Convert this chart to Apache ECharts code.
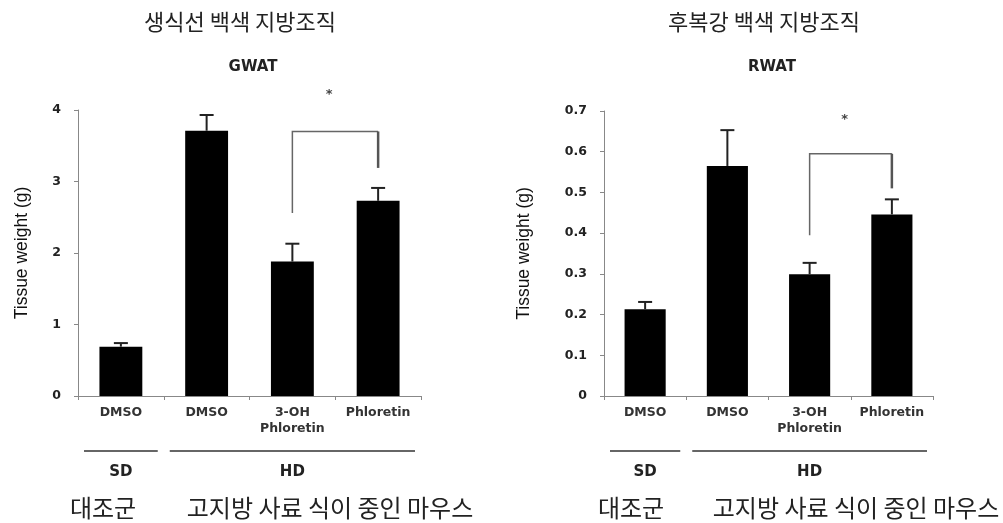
<!DOCTYPE html>
<html>
<head>
<meta charset="utf-8">
<script src="https://cdn.jsdelivr.net/npm/echarts@6/dist/echarts.min.js"></script>
<style>
  html, body { margin: 0; padding: 0; background: #fff; }
  #chart { width: 1003px; height: 523px; }
</style>
</head>
<body>
<div id="chart"></div>
<script>
// Treatment groups along the x axis
const categories = ['DMSO', 'DMSO', '3-OH\nPhloretin', 'Phloretin'];

// Gonadal white adipose tissue (g): mean and standard error
const gwatMean = [0.69, 3.71, 1.88, 2.73];
const gwatSE   = [0.05, 0.22, 0.25, 0.18];

// Retroperitoneal white adipose tissue (g): mean and standard error
const rwatMean = [0.213, 0.565, 0.299, 0.446];
const rwatSE   = [0.018, 0.088, 0.028, 0.037];

// Significance bracket: [from category, to category, top, left leg end, right leg end, star height]
const gwatBracket = [2, 3, 3.70, 2.56, 3.19, 4.22];
const rwatBracket = [2, 3, 0.595, 0.395, 0.51, 0.68];

// Diet groups under the axis: category span and label
const groupSpans = [[0, 0], [1, 3]];
const groupNames = ['SD', 'HD'];

const gwatTicks = { min: 0, max: 4, interval: 1 };
const rwatTicks = { min: 0, max: 0.7, interval: 0.1 };

const latinFont = 'DejaVu Sans';
const korFont = '"Noto Sans CJK KR", "Noto Sans CJK SC", sans-serif';

function errorBarItem(params, api) {
  const i = api.value(0);
  const m = api.value(1);
  const e = api.value(2);
  const p0 = api.coord([i, m]);
  const p1 = api.coord([i, m + e]);
  const cap = 7;
  return {
    type: 'group',
    children: [
      { type: 'line', shape: { x1: p0[0], y1: p0[1], x2: p1[0], y2: p1[1] },
        style: { stroke: '#222', lineWidth: 2 } },
      { type: 'line', shape: { x1: p1[0] - cap, y1: p1[1], x2: p1[0] + cap, y2: p1[1] },
        style: { stroke: '#222', lineWidth: 2 } }
    ]
  };
}

function bracketItem(params, api) {
  const a = api.value(0), b = api.value(1);
  const top = api.value(2), le = api.value(3), re = api.value(4), star = api.value(5);
  const pTopL = api.coord([a, top]);
  const pTopR = api.coord([b, top]);
  const pL = api.coord([a, le]);
  const pR = api.coord([b, re]);
  const pStar = api.coord([a, star]);
  return {
    type: 'group',
    children: [
      { type: 'polyline', shape: { points: [[pL[0], pL[1]], [pTopL[0], pTopL[1]], [pTopR[0], pTopR[1]]] },
        style: { stroke: '#666', lineWidth: 1.5, fill: null } },
      { type: 'line', shape: { x1: pTopR[0], y1: pTopR[1], x2: pR[0], y2: pR[1] },
        style: { stroke: '#555', lineWidth: 2.5 } },
      { type: 'text', x: (pTopL[0] + pTopR[0]) / 2 - 6, y: pStar[1],
        style: { text: '*', fill: '#444', fontSize: 13, fontWeight: 'bold',
                 fontFamily: latinFont, align: 'center', verticalAlign: 'middle' } }
    ]
  };
}

function groupItem(params, api) {
  const s = api.value(0), e = api.value(1);
  const band = api.size([1, 0])[0];
  const base = api.coord([s, 0]);
  const left = base[0] - band / 2 + 6;
  const right = api.coord([e, 0])[0] + band / 2 - 6;
  const y0 = base[1];
  return {
    type: 'group',
    children: [
      { type: 'line', shape: { x1: left, y1: y0 + 55, x2: right, y2: y0 + 55 },
        style: { stroke: '#666', lineWidth: 2 } },
      { type: 'text', x: (left + right) / 2, y: y0 + 76,
        style: { text: groupNames[params.dataIndex], fill: '#222', fontSize: 15, fontWeight: 'bold',
                 fontFamily: latinFont, align: 'center', verticalAlign: 'middle' } }
    ]
  };
}

function xAxisFor(gridIndex) {
  return {
    type: 'category', gridIndex, data: categories,
    axisLine: { lineStyle: { color: '#888', width: 1 } },
    axisTick: { show: true, length: 4, lineStyle: { color: '#888' } },
    axisLabel: { color: '#333', fontFamily: latinFont, fontWeight: 'bold', fontSize: 12.5,
                 margin: 9, lineHeight: 16, interval: 0 }
  };
}

function yAxisFor(gridIndex, ticks, gap) {
  return {
    type: 'value', gridIndex, min: ticks.min, max: ticks.max, interval: ticks.interval,
    name: 'Tissue weight (g)', nameLocation: 'middle', nameGap: gap,
    nameTextStyle: { color: '#111', fontFamily: 'Liberation Sans', fontSize: 17.5 },
    splitLine: { show: false },
    axisLine: { show: true, lineStyle: { color: '#888', width: 1 } },
    axisTick: { show: true, length: 4, lineStyle: { color: '#888' } },
    axisLabel: { color: '#222', fontFamily: latinFont, fontWeight: 'bold', fontSize: 12.5, margin: 17 }
  };
}

function seriesFor(idx, mean, se, bracket) {
  return [
    { type: 'bar', xAxisIndex: idx, yAxisIndex: idx, data: mean, barWidth: '50%',
      itemStyle: { color: '#000' }, z: 3 },
    { type: 'custom', xAxisIndex: idx, yAxisIndex: idx, renderItem: errorBarItem,
      data: mean.map((m, i) => [i, m, se[i]]), encode: { x: 0, y: 1 }, z: 4, clip: false },
    { type: 'custom', xAxisIndex: idx, yAxisIndex: idx, renderItem: bracketItem,
      data: [bracket], encode: { x: 0, y: 2 }, z: 5, clip: false },
    { type: 'custom', xAxisIndex: idx, yAxisIndex: idx, renderItem: groupItem,
      data: groupSpans, encode: { x: 0 }, z: 5, clip: false }
  ];
}

function label(text, x, y, size, weight, family) {
  return { type: 'text', x, y,
    style: { text, fill: '#222', fontSize: size, fontWeight: weight || 'normal',
             fontFamily: family || korFont, align: 'center', verticalAlign: 'middle' } };
}

const chart = echarts.init(document.getElementById('chart'));
chart.setOption({
  backgroundColor: '#fff',
  animation: false,
  grid: [
    { left: 78, right: 582, top: 110, bottom: 127 },
    { left: 604, right: 70, top: 111, bottom: 127 }
  ],
  xAxis: [xAxisFor(0), xAxisFor(1)],
  yAxis: [yAxisFor(0, gwatTicks, 47), yAxisFor(1, rwatTicks, 71)],
  series: [
    ...seriesFor(0, gwatMean, gwatSE, gwatBracket),
    ...seriesFor(1, rwatMean, rwatSE, rwatBracket)
  ],
  graphic: [
    label('생식선 백색 지방조직', 240, 22, 22),
    label('후복강 백색 지방조직', 764, 22, 22),
    label('GWAT', 253, 67, 15, 'bold', latinFont),
    label('RWAT', 772, 67, 15, 'bold', latinFont),
    label('대조군', 103, 508, 24),
    label('고지방 사료 식이 중인 마우스', 330, 508, 24),
    label('대조군', 631, 508, 24),
    label('고지방 사료 식이 중인 마우스', 856, 508, 24)
  ]
});
</script>
</body>
</html>
